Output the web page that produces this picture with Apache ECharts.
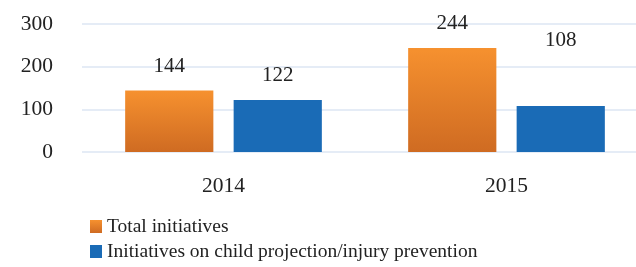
<!DOCTYPE html>
<html>
<head>
<meta charset="utf-8">
<script src="https://cdn.jsdelivr.net/npm/echarts@6/dist/echarts.min.js"></script>
<style>
  html, body { margin: 0; padding: 0; background: #fff; }
  #chart { width: 636px; height: 267px; }
</style>
</head>
<body>
<div id="chart"></div>
<script>
var years = ['2014', '2015'];
var totalInitiatives = [144, 244];
var childInitiatives = [122, 108];
var yTicks = [0, 100, 200, 300];

var font = 'Liberation Serif';
var ink = '#222';

var chart = echarts.init(document.getElementById('chart'));

// labels sit well above the bars, the 2015 blue one even higher
function withLabels(values, extra) {
  return values.map(function (v, i) {
    return { value: v, label: { offset: [0, -(extra[i] || 0)] } };
  });
}

var option = {
  animation: false,
  grid: { left: 82, width: 566, top: 24, bottom: 115, outerBoundsMode: 'none' },
  legend: {
    orient: 'vertical',
    left: 90,
    top: 216,
    height: 60,
    padding: 0,
    itemWidth: 12,
    itemHeight: 13,
    itemGap: 4,
    icon: 'rect',
    textStyle: { fontFamily: font, fontSize: 19.5, color: ink, lineHeight: 21 },
    data: ['Total initiatives', 'Initiatives on child projection/injury prevention']
  },
  xAxis: {
    type: 'category',
    data: years,
    axisLine: { show: false },
    axisTick: { show: false },
    axisLabel: { fontFamily: font, fontSize: 21.5, color: ink, margin: 23 }
  },
  yAxis: {
    type: 'value',
    min: 0,
    max: 300,
    interval: 100,
    axisLine: { show: false },
    axisTick: { show: false },
    axisLabel: { fontFamily: font, fontSize: 21.5, color: ink, margin: 29 },
    splitLine: { lineStyle: { color: '#dce6f3', width: 1.5 } }
  },
  series: [
    {
      name: 'Total initiatives',
      type: 'bar',
      data: withLabels(totalInitiatives, [0, 0]),
      barGap: '23%',
      barCategoryGap: '30.5%',
      itemStyle: {
        color: new echarts.graphic.LinearGradient(0, 0, 0, 1, [
          { offset: 0, color: '#f6912f' },
          { offset: 1, color: '#cf6b22' }
        ])
      },
      label: {
        show: true, position: 'top', distance: 14,
        fontFamily: font, fontSize: 21, color: ink
      }
    },
    {
      name: 'Initiatives on child projection/injury prevention',
      type: 'bar',
      data: withLabels(childInitiatives, [0, 41]),
      itemStyle: { color: '#1a6bb6' },
      label: {
        show: true, position: 'top', distance: 14,
        fontFamily: font, fontSize: 21, color: ink
      }
    }
  ]
};

chart.setOption(option);
</script>
</body>
</html>
